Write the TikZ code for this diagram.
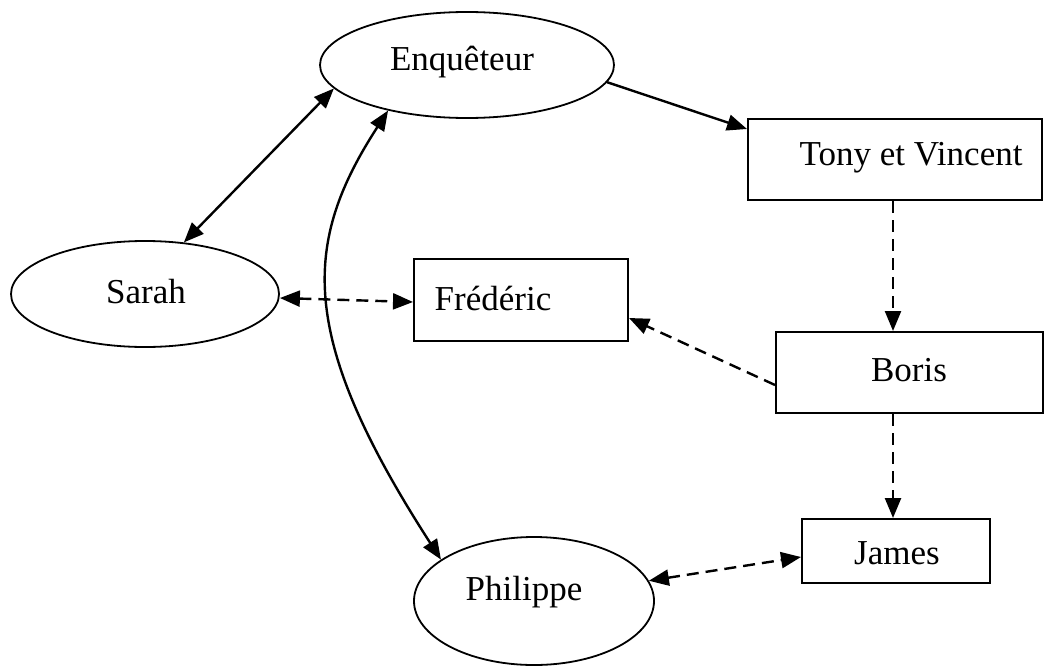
\documentclass[tikz,border=0pt]{standalone}
\usepackage{fontspec}
\setmainfont{Liberation Serif}
\usetikzlibrary{shapes.geometric,arrows.meta}
\begin{document}
\begin{tikzpicture}[x=1pt,y=-1pt,
  ell/.style={draw,line width=1.8pt,shape=ellipse,inner sep=0pt},
  box/.style={draw,line width=2pt,rectangle,inner sep=0pt},
  txt/.style={inner sep=0pt,font=\fontsize{35}{42}\selectfont},
  link/.style={line width=2.4pt,-{Triangle[length=20pt,width=16pt]}},
  link2/.style={line width=2.4pt,{Triangle[length=20pt,width=16pt]}-{Triangle[length=20pt,width=16pt]}},
  dsh/.style={dash pattern=on 12pt off 7pt}]
\useasboundingbox (0,0) rectangle (1056,666);
% shapes
\node[ell,minimum width=294pt,minimum height=106pt] (enq) at (467,65) {};
\node[ell,minimum width=268pt,minimum height=106pt] (sarah) at (145,294) {};
\node[ell,minimum width=240pt,minimum height=128pt] (phil) at (534,601) {};
\node[box,minimum width=294pt,minimum height=81pt] (tony) at (895,159.5) {};
\node[box,minimum width=214pt,minimum height=82pt] (fred) at (521,300) {};
\node[box,minimum width=267pt,minimum height=81pt] (boris) at (909.5,372.5) {};
\node[box,minimum width=188pt,minimum height=64pt] (james) at (896,551) {};
% texts
\node[txt] (tenq) at (462,62) {Enquêteur};
\node[txt] (tsarah) at (146,292) {Sarah};
\node[txt] (tphil) at (524,592) {Philippe};
\node[txt] (ttony) at (911,158) {Tony et Vincent};
\node[txt] (tfred) at (493,298) {Frédéric};
\node[txt] (tboris) at (909,370) {Boris};
\node[txt] (tjames) at (897,553) {James};
% connectors
\draw[link2] (enq.190) -- (sarah.53);
\draw[link2] (enq.210) .. controls (303,242) and (296,335) .. (phil.156);
\draw[link] (enq.-7) -- ([yshift=-11pt]tony.north west);
\draw[link,dsh] (tony.south -| 893,0) -- (boris.north -| 893,0);
\draw[link,dsh] ([yshift=-12.5pt]boris.west) -- ([yshift=-18pt]fred.east);
\draw[link,dsh] (boris.south -| 893,0) -- (james.north -| 893,0);
\draw[link2,dsh] ([yshift=-4pt]sarah.east) -- ([yshift=-2pt]fred.west);
\draw[link2,dsh] (phil.10) -- ([yshift=-6pt]james.west);
\end{tikzpicture}
\end{document}
